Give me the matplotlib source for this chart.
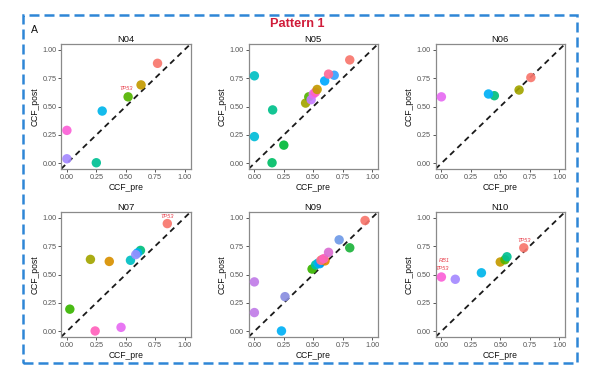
import matplotlib
matplotlib.use("Agg")
import matplotlib.pyplot as plt
from matplotlib.patches import Rectangle

plt.rcParams['font.family'] = ['Liberation Sans', 'DejaVu Sans']

# ---------------- data ----------------
panel_names = ["N04", "N05", "N06", "N07", "N09", "N10"]

N04_pre = [0.77, 0.63, 0.52, 0.25, 0.30, 0.00, 0.00]
N04_post = [0.88, 0.69, 0.585, 0.005, 0.46, 0.04, 0.29]
N04_col = ["#F8766D", "#C49A00", "#53B400", "#00C094", "#00B6EB", "#A58AFF", "#FB61D7"]

N05_pre = [0.81, 0.00, 0.00, 0.155, 0.25, 0.15, 0.435, 0.462, 0.482, 0.50, 0.518, 0.533, 0.597, 0.678, 0.63]
N05_post = [0.91, 0.77, 0.235, 0.47, 0.16, 0.005, 0.53, 0.585, 0.56, 0.61, 0.625, 0.65, 0.725, 0.775, 0.785]
N05_col = ["#F8766D", "#00BFC4", "#00BCD8", "#00C08B", "#00BA38", "#00BE67", "#A3A500", "#53B400",
           "#C77CFF", "#E76BF3", "#FF61C3", "#C49A00", "#00A9FF", "#35A2FF", "#FF6A98"]

N06_pre = [0.76, 0.66, 0.45, 0.40, 0.00]
N06_post = [0.755, 0.645, 0.595, 0.61, 0.585]
N06_col = ["#F8766D", "#A3A500", "#00BF7D", "#00B0F6", "#E76BF3"]

N07_pre = [0.853, 0.36, 0.20, 0.025, 0.625, 0.54, 0.60, 0.585, 0.46, 0.24]
N07_post = [0.948, 0.615, 0.633, 0.195, 0.712, 0.625, 0.69, 0.675, 0.035, 0.003]
N07_col = ["#F8766D", "#D89000", "#A3A500", "#39B600", "#00BF7D", "#00BFC4", "#00B0F6", "#9590FF",
           "#E76BF3", "#FF62BC"]

N09_pre = [0.94, 0.72, 0.81, 0.00, 0.00, 0.26, 0.23, 0.49, 0.52, 0.54, 0.555, 0.60, 0.575,
           0.565, 0.59, 0.63]
N09_post = [0.975, 0.805, 0.735, 0.435, 0.165, 0.305, 0.003, 0.548, 0.585, 0.60, 0.595, 0.62, 0.63,
            0.625, 0.64, 0.695]
N09_col = ["#F8766D", "#6F9AE8", "#1DB33B", "#C07CE8", "#C07CE8", "#8A8EE0", "#00B0F6", "#39B600",
           "#00C1A3", "#00BAE0", "#00A5FF", "#E58700", "#A3A500", "#FF6C91", "#FF62BC", "#DA6DD2"]

N10_pre = [0.70, 0.50, 0.54, 0.557, 0.34, 0.118, 0.00]
N10_post = [0.735, 0.61, 0.63, 0.656, 0.515, 0.458, 0.478]
N10_col = ["#F8766D", "#C49A00", "#53B400", "#00C094", "#00B6EB", "#A58AFF", "#FB61D7"]

panels_pre = [N04_pre, N05_pre, N06_pre, N07_pre, N09_pre, N10_pre]
panels_post = [N04_post, N05_post, N06_post, N07_post, N09_post, N10_post]
panels_col = [N04_col, N05_col, N06_col, N07_col, N09_col, N10_col]

# gene labels: (panel index, point index, text, dx pt, dy pt)
label_panel = [0, 3, 5, 5, 5]
label_point = [2, 0, 0, 6, 6]
label_text = ["TP53", "TP53", "TP53", "TP53", "RB1"]
label_dx = [-1.2, 0.0, 0.0, 0.8, 2.4]
label_dy = [6.3, 5.0, 5.6, 5.8, 11.6]

ticks = [0.0, 0.25, 0.5, 0.75, 1.0]
tick_labels = ["0.00", "0.25", "0.50", "0.75", "1.00"]

# ---------------- figure ----------------
W, H = 600, 372
fig = plt.figure(figsize=(6.0, 3.72), dpi=100)

col_left = [61, 248.5, 435.5]
row_top = [44, 212]
aw, ah = 129.5, 125

axes = []
for i in range(6):
    r, c = divmod(i, 3)
    left = col_left[c] / W
    bottom = 1 - (row_top[r] + ah) / H
    ax = fig.add_axes([left, bottom, aw / W, ah / H])
    axes.append(ax)

for i, ax in enumerate(axes):
    ax.plot([-0.05, 1.05], [-0.05, 1.05], color="#1a1a1a", lw=1.3,
            linestyle=(0, (3.2, 2.4)), zorder=2)
    ax.scatter(panels_pre[i], panels_post[i], c=panels_col[i], s=46,
               linewidths=0, alpha=0.92, zorder=3)
    ax.set_xlim(-0.05, 1.05)
    ax.set_ylim(-0.05, 1.05)
    ax.set_xticks(ticks)
    ax.set_xticklabels(tick_labels)
    ax.set_yticks(ticks)
    ax.set_yticklabels(tick_labels)
    ax.tick_params(length=2.2, width=0.7, color="#555555", labelsize=5.2,
                   labelcolor="#555555", pad=1.2)
    for s in ax.spines.values():
        s.set_color("#8a8a8a")
        s.set_linewidth(0.9)
    ax.set_title(panel_names[i], fontsize=6.8, color="#111111", pad=1.8)
    ax.set_xlabel("CCF_pre", fontsize=6.2, color="#111111", labelpad=1.5)
    ax.set_ylabel("CCF_post", fontsize=6.2, color="#111111", labelpad=2)

for k in range(len(label_text)):
    ax = axes[label_panel[k]]
    j = label_point[k]
    ax.annotate(label_text[k], xy=(panels_pre[label_panel[k]][j], panels_post[label_panel[k]][j]),
                xytext=(label_dx[k], label_dy[k]), textcoords="offset points",
                ha="center", va="center", fontsize=4.1, style="italic",
                color="#E8424E", zorder=4)

# outer dashed box
x0, x1 = 23.3 / W, 576.7 / W
y0, y1 = 1 - 362.7 / H, 1 - 15.0 / H
fig.patches.append(Rectangle((x0, y0), x1 - x0, y1 - y0, transform=fig.transFigure,
                             fill=False, edgecolor="#2E86D6", lw=1.8,
                             linestyle=(0, (4, 2))))

fig.text(297.7 / W, 1 - 26.7 / H, "Pattern 1", ha="center", va="baseline", fontsize=9.2,
         fontweight="bold", color="#D01C3A")
fig.text(34.5 / W, 1 - 33.3 / H, "A", ha="center", va="baseline", fontsize=7.6, color="#111111")

fig.savefig("out.png", dpi=100)
